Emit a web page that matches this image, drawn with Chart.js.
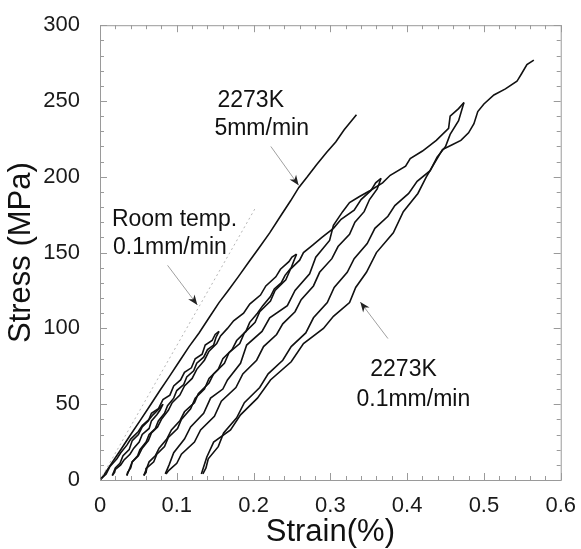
<!DOCTYPE html>
<html lang="en">
<head>
<meta charset="UTF-8">
<title>Stress-strain</title>
<script src="https://cdn.jsdelivr.net/npm/chart.js"></script>
<style>
  html, body { margin: 0; padding: 0; background: #fff; }
</style>
</head>
<body>
<canvas id="myChart" width="581" height="549"></canvas>
<script>
// tick labels
const xTicks = [0, 0.1, 0.2, 0.3, 0.4, 0.5, 0.6];
const yTicks = [0, 50, 100, 150, 200, 250, 300];

// [strain %, stress MPa]
const fast5 = [[0,0],[0.006,4],[0.015,11],[0.027,20],[0.04,30],[0.052,39],[0.065,49],[0.078,59],[0.09,68],[0.103,78],[0.116,88],[0.129,97],[0.142,107],[0.155,117],[0.167,125],[0.18,134],[0.194,144],[0.207,153],[0.221,163],[0.235,174],[0.248,184],[0.259,193],[0.27,200],[0.282,208],[0.295,216],[0.307,223],[0.318,231],[0.326,236],[0.334,241]];
const roomTemp = [[0,0],[0.203,180]];

// 2273K 0.1mm/min, loading / unloading cycles
const load0 = [[0,0],[0.008,4],[0.013,9],[0.022,14],[0.027,18],[0.035,23],[0.04,27],[0.05,32],[0.055,36],[0.064,40],[0.069,43],[0.077,47],[0.082,50]];
const unload1 = [[0.082,50],[0.078,46],[0.074,43],[0.067,39],[0.064,34],[0.055,30],[0.051,25],[0.044,21],[0.039,17],[0.031,13],[0.027,10],[0.02,7],[0.019,5],[0.016,3]];
const load1 = [[0.016,3],[0.02,8],[0.026,11],[0.03,16],[0.038,20],[0.042,26],[0.05,30],[0.055,35],[0.063,39],[0.067,44],[0.076,47],[0.082,53],[0.091,56],[0.096,62],[0.105,66],[0.11,71],[0.119,74],[0.124,80],[0.133,83],[0.137,89],[0.146,92],[0.15,96],[0.155,98]];
const unload2 = [[0.155,98],[0.151,94],[0.148,89],[0.14,86],[0.135,81],[0.126,77],[0.122,72],[0.113,68],[0.109,63],[0.1,59],[0.096,54],[0.088,49],[0.084,44],[0.076,39],[0.072,34],[0.064,30],[0.06,25],[0.052,20],[0.049,16],[0.042,12],[0.04,8],[0.036,5],[0.035,3]];
const load2 = [[0.035,3],[0.039,8],[0.042,12],[0.05,16],[0.055,21],[0.063,26],[0.067,31],[0.075,35],[0.08,40],[0.089,46],[0.094,51],[0.104,56],[0.11,62],[0.12,67],[0.126,73],[0.136,79],[0.142,85],[0.152,90],[0.157,95],[0.166,100],[0.174,105],[0.187,110],[0.195,116],[0.209,122],[0.216,128],[0.229,134],[0.235,139],[0.246,144],[0.25,147],[0.256,149]];
const unload3 = [[0.256,149],[0.252,144],[0.249,140],[0.241,135],[0.236,130],[0.227,126],[0.222,121],[0.212,115],[0.205,110],[0.195,104],[0.19,98],[0.178,92],[0.172,86],[0.16,80],[0.154,73],[0.142,67],[0.136,60],[0.124,54],[0.118,47],[0.106,40],[0.101,34],[0.089,28],[0.084,22],[0.074,17],[0.07,12],[0.061,8],[0.06,5],[0.057,3]];
const load3 = [[0.057,3],[0.061,8],[0.064,12],[0.072,16],[0.077,21],[0.087,27],[0.093,33],[0.104,39],[0.11,45],[0.123,51],[0.128,57],[0.142,64],[0.148,70],[0.162,77],[0.168,84],[0.182,90],[0.188,97],[0.202,104],[0.208,111],[0.222,118],[0.228,125],[0.242,132],[0.248,139],[0.26,145],[0.265,150],[0.277,155],[0.289,160],[0.304,166],[0.314,172],[0.331,178],[0.34,185],[0.353,191],[0.359,196],[0.366,199]];
const unload4 = [[0.366,199],[0.361,192],[0.351,185],[0.344,177],[0.332,170],[0.325,162],[0.31,154],[0.302,146],[0.286,137],[0.278,128],[0.262,119],[0.254,111],[0.238,103],[0.23,96],[0.213,88],[0.204,79],[0.186,70],[0.177,61],[0.158,52],[0.149,42],[0.131,33],[0.123,25],[0.106,17],[0.1,11],[0.089,6],[0.086,4]];
const load4 = [[0.085,4],[0.09,10],[0.096,18],[0.11,27],[0.118,35],[0.135,44],[0.144,54],[0.16,60],[0.166,66],[0.183,77],[0.191,89],[0.211,98],[0.221,107],[0.244,115],[0.254,125],[0.273,136],[0.281,147],[0.299,158],[0.304,168],[0.316,177],[0.325,183],[0.338,187],[0.352,191],[0.368,196],[0.378,201],[0.398,207],[0.404,212],[0.42,217],[0.438,224],[0.454,232],[0.456,240],[0.467,245],[0.474,249]];
const unload5 = [[0.474,249],[0.467,237],[0.456,228],[0.45,220],[0.439,213],[0.43,204],[0.413,197],[0.402,189],[0.384,181],[0.375,174],[0.358,166],[0.348,156],[0.331,146],[0.322,137],[0.305,127],[0.296,117],[0.278,107],[0.268,97],[0.249,88],[0.238,79],[0.219,70],[0.208,61],[0.188,51],[0.178,41],[0.161,31],[0.154,22],[0.141,14],[0.138,8],[0.134,4]];
const load5 = [[0.132,4],[0.139,15],[0.148,25],[0.17,33],[0.183,43],[0.205,54],[0.222,66],[0.249,78],[0.265,90],[0.291,100],[0.304,108],[0.325,117],[0.333,127],[0.347,137],[0.36,150],[0.382,163],[0.395,177],[0.414,189],[0.425,200],[0.446,218],[0.458,221],[0.47,224],[0.48,229],[0.487,235],[0.492,243],[0.5,248],[0.513,254],[0.528,258],[0.543,263],[0.549,268],[0.556,274],[0.565,277]];

const cycles = [load0, unload1, load1, unload2, load2, unload3, load3, unload4, load4, unload5, load5];

// annotations (data units)
const noteText = ['2273K', '5mm/min', 'Room temp.', '0.1mm/min', '2273K', '0.1mm/min'];
const noteX = [0.153, 0.149, 0.0155, 0.017, 0.352, 0.334];
const noteY = [250.5, 232, 172, 153, 73, 53];
// arrows: [from strain, from stress, to strain, to stress]
const arrows = [[0.2225, 220, 0.2587, 194.4], [0.088, 141.6, 0.1268, 115.5], [0.375, 93.3, 0.339, 117.4]];

const FONT = '"Liberation Sans", Arial, sans-serif';
const toXY = pts => pts.map(p => ({x: p[0], y: p[1]}));

const datasets = [{
    data: toXY(roomTemp), borderColor: '#b5b5b5', borderWidth: 1, borderDash: [2, 3]
}, {
    data: toXY(fast5), borderColor: '#111', borderWidth: 1.6
}];
cycles.forEach(c => datasets.push({data: toXY(c), borderColor: '#111', borderWidth: 1.6}));

const decor = {
    id: 'decor',
    beforeDatasetsDraw(chart) {
        const {ctx, chartArea: a, scales: {x, y}} = chart;
        ctx.save();
        ctx.strokeStyle = '#9a9a9a';
        ctx.lineWidth = 1;
        ctx.strokeRect(a.left + 0.5, a.top + 0.5, a.right - a.left, a.bottom - a.top);
        ctx.beginPath();
        for (let v = 0; v <= 0.6001; v += 0.02) {
            const px = Math.round(x.getPixelForValue(v)) + 0.5;
            const major = Math.abs(v * 10 - Math.round(v * 10)) < 1e-6;
            const len = major ? 7 : 4;
            ctx.moveTo(px, a.bottom); ctx.lineTo(px, a.bottom - len);
            ctx.moveTo(px, a.top); ctx.lineTo(px, a.top + len);
        }
        for (let v = 0; v <= 300; v += 10) {
            const py = Math.round(y.getPixelForValue(v)) + 0.5;
            const len = v % 50 === 0 ? 7 : 4;
            ctx.moveTo(a.left, py); ctx.lineTo(a.left + len, py);
            ctx.moveTo(a.right, py); ctx.lineTo(a.right - len, py);
        }
        ctx.stroke();
        ctx.restore();
    },
    afterDatasetsDraw(chart) {
        const {ctx, scales: {x, y}} = chart;
        ctx.save();
        arrows.forEach(ar => {
            const x1 = x.getPixelForValue(ar[0]), y1 = y.getPixelForValue(ar[1]);
            const x2 = x.getPixelForValue(ar[2]), y2 = y.getPixelForValue(ar[3]);
            ctx.strokeStyle = '#a0a0a0';
            ctx.lineWidth = 1;
            ctx.beginPath(); ctx.moveTo(x1, y1); ctx.lineTo(x2, y2); ctx.stroke();
            const ang = Math.atan2(y2 - y1, x2 - x1);
            ctx.fillStyle = '#222';
            ctx.beginPath();
            ctx.moveTo(x2, y2);
            ctx.lineTo(x2 - 10 * Math.cos(ang) + 4 * Math.sin(ang), y2 - 10 * Math.sin(ang) - 4 * Math.cos(ang));
            ctx.lineTo(x2 - 7 * Math.cos(ang), y2 - 7 * Math.sin(ang));
            ctx.lineTo(x2 - 10 * Math.cos(ang) - 4 * Math.sin(ang), y2 - 10 * Math.sin(ang) + 4 * Math.cos(ang));
            ctx.closePath();
            ctx.fill();
        });
        ctx.fillStyle = '#111';
        ctx.font = '23px ' + FONT;
        ctx.textAlign = 'left';
        ctx.textBaseline = 'middle';
        noteText.forEach((t, i) => {
            ctx.fillText(t, x.getPixelForValue(noteX[i]), y.getPixelForValue(noteY[i]));
        });
        ctx.restore();
    }
};

new Chart(document.getElementById('myChart'), {
    type: 'line',
    data: {datasets: datasets},
    options: {
        responsive: false,
        animation: false,
        layout: {padding: {top: 20, right: 17, left: 0, bottom: 0}},
        elements: {point: {radius: 0}, line: {tension: 0, fill: false}},
        plugins: {legend: {display: false}, tooltip: {enabled: false}},
        scales: {
            x: {
                type: 'linear', min: 0, max: 0.6,
                afterBuildTicks: s => { s.ticks = xTicks.map(v => ({value: v})); },
                afterFit: s => { s.height = 69; },
                grid: {display: false},
                border: {display: false},
                ticks: {padding: 5, color: '#1a1a1a', font: {size: 22, family: FONT},
                    callback: v => String(v)},
                title: {display: true, text: 'Strain(%)', color: '#111',
                    font: {size: 31, family: FONT, lineHeight: 1}, padding: {top: 0, bottom: 1}}
            },
            y: {
                type: 'linear', min: 0, max: 300,
                afterBuildTicks: s => { s.ticks = yTicks.map(v => ({value: v})); },
                afterFit: s => { s.width = 100; },
                grid: {display: false},
                border: {display: false},
                ticks: {padding: 12, color: '#1a1a1a', font: {size: 22, family: FONT}},
                title: {display: true, text: 'Stress (MPa)', color: '#111',
                    font: {size: 31, family: FONT, lineHeight: 1}, padding: {top: 6, bottom: 0}}
            }
        }
    },
    plugins: [decor]
});
</script>
</body>
</html>
